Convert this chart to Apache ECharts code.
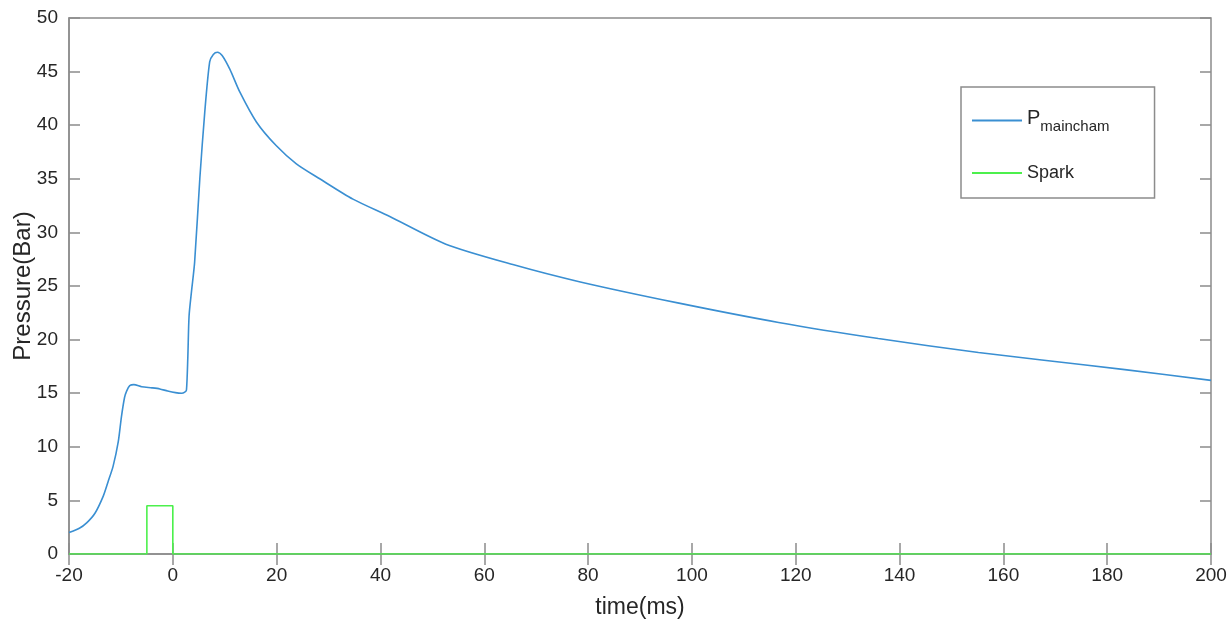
<!DOCTYPE html>
<html>

<head>
    <title>Pressure vs time</title>
    <meta charset="utf-8" />
    <script src="https://cdn.jsdelivr.net/npm/echarts@6/dist/echarts.min.js"></script>
    <style type="text/css">
        html,
        body {
            width: 100%;
            height: 100%;
            margin: 0;
            background: #fff;
        }

        #chart {
            width: 1231px;
            height: 626px;
        }
    </style>
</head>

<body>
    <div id="chart"></div>
    <script>
        // time (ms) and pressure (bar)
        var timeMs = [-20, -18, -16.6, -15, -13.4, -12.5, -11.5, -10.5, -9.9, -9.3, -8.9, -8.3, -7.5, -6, -4, -2.5, -1, 0.5, 1.7, 2.3, 2.63, 2.9, 3.13, 3.6, 4.2, 5.2, 6.15, 7.1, 7.8, 8.6, 9.5, 11, 12.9, 16.1, 19.9, 23.8, 28.3, 34.7, 41.7, 52.6, 65.5, 78.3, 97.5, 116.7, 135.9, 155.2, 167.4, 183.4, 200];
        var pMaincham = [2.0, 2.4, 2.9, 3.8, 5.4, 6.7, 8.2, 10.5, 12.8, 14.6, 15.2, 15.7, 15.8, 15.6, 15.5, 15.4, 15.2, 15.05, 15.0, 15.1, 15.3, 18.5, 22.2, 24.5, 27.2, 35.0, 41.2, 45.9, 46.6, 46.8, 46.5, 45.2, 43.1, 40.3, 38.1, 36.4, 35.0, 33.1, 31.5, 28.9, 27.0, 25.4, 23.4, 21.6, 20.1, 18.8, 18.1, 17.2, 16.2];

        // spark signal
        var sparkTime = [-20, -5, -5, 0, 0, 200];
        var sparkValue = [0, 0, 4.5, 4.5, 0, 0];

        var xTicks = { min: -20, max: 200, interval: 20 };
        var yTicks = { min: 0, max: 50, interval: 5 };

        function pairs(xs, ys) {
            return xs.map(function (x, i) { return [x, ys[i]]; });
        }

        var axisGray = '#8c8c8c';
        var textColor = '#262626';
        var font = 'Liberation Sans, Arial, Helvetica, sans-serif';

        var chart = echarts.init(document.getElementById('chart'));

        var option = {
            animation: false,
            textStyle: { fontFamily: font },
            grid: {
                left: 69, right: 20, top: 18, bottom: 72,
                outerBoundsMode: 'none',
                containLabel: false,
                show: true, borderColor: axisGray, borderWidth: 1.5
            },
            legend: {
                orient: 'vertical',
                left: 961, top: 87,
                padding: [21, 45, 16, 11],
                itemGap: 30,
                itemWidth: 50,
                itemHeight: 2,
                backgroundColor: '#fff',
                borderColor: axisGray,
                borderWidth: 1.5,
                icon: 'rect',
                formatter: function (name) {
                    return name === 'Pmaincham' ? '{p|P}{s|maincham}' : '{n|' + name + '}';
                },
                textStyle: {
                    color: textColor,
                    rich: {
                        p: { fontSize: 20, color: textColor, fontFamily: font, padding: [0, 0, 5, 0] },
                        s: { fontSize: 15, color: textColor, fontFamily: font, padding: [12, 0, 0, 0] },
                        n: { fontSize: 18, color: textColor, fontFamily: font }
                    }
                },
                data: ['Pmaincham', 'Spark']
            },
            xAxis: [{
                type: 'value',
                min: xTicks.min, max: xTicks.max, interval: xTicks.interval,
                name: 'time(ms)',
                nameLocation: 'middle',
                nameGap: 42,
                nameTextStyle: { fontSize: 23, color: textColor },
                axisLine: { onZero: false, lineStyle: { color: axisGray, width: 1.5 } },
                axisTick: { inside: true, length: 11, lineStyle: { color: axisGray, width: 1.5 } },
                axisLabel: { fontSize: 19, color: textColor, margin: 12 },
                splitLine: { show: false }
            }, {
                type: 'value', position: 'top',
                min: xTicks.min, max: xTicks.max, interval: xTicks.interval,
                axisLine: { show: false },
                axisTick: { inside: true, length: 11, lineStyle: { color: axisGray, width: 1.5 } },
                axisLabel: { show: false },
                splitLine: { show: false }
            }],
            yAxis: [{
                type: 'value',
                min: yTicks.min, max: yTicks.max, interval: yTicks.interval,
                name: 'Pressure(Bar)',
                nameLocation: 'middle',
                nameGap: 34,
                nameMoveOverlap: false,
                nameTextStyle: { fontSize: 24, color: textColor },
                axisLine: { show: true, onZero: false, lineStyle: { color: axisGray, width: 1.5 } },
                axisTick: { show: true, inside: true, length: 11, lineStyle: { color: axisGray, width: 1.5 } },
                axisLabel: { fontSize: 19, color: textColor, margin: 11 },
                splitLine: { show: false }
            }, {
                type: 'value', position: 'right',
                min: yTicks.min, max: yTicks.max, interval: yTicks.interval,
                axisLine: { show: false, onZero: false },
                axisTick: { show: true, inside: true, length: 11, lineStyle: { color: axisGray, width: 1.5 } },
                axisLabel: { show: false },
                splitLine: { show: false }
            }],
            series: [{
                name: 'Pmaincham',
                type: 'line',
                data: pairs(timeMs, pMaincham),
                showSymbol: false,
                smooth: 0.25,
                color: '#3a8fd2',
                lineStyle: { width: 1.6, color: '#3a8fd2' },
                z: 3
            }, {
                name: 'Spark',
                type: 'line',
                data: pairs(sparkTime, sparkValue),
                showSymbol: false,
                color: '#4cf04c',
                lineStyle: { width: 1.6, color: '#4cf04c' },
                z: 2
            }]
        };

        chart.setOption(option);
    </script>
</body>

</html>
